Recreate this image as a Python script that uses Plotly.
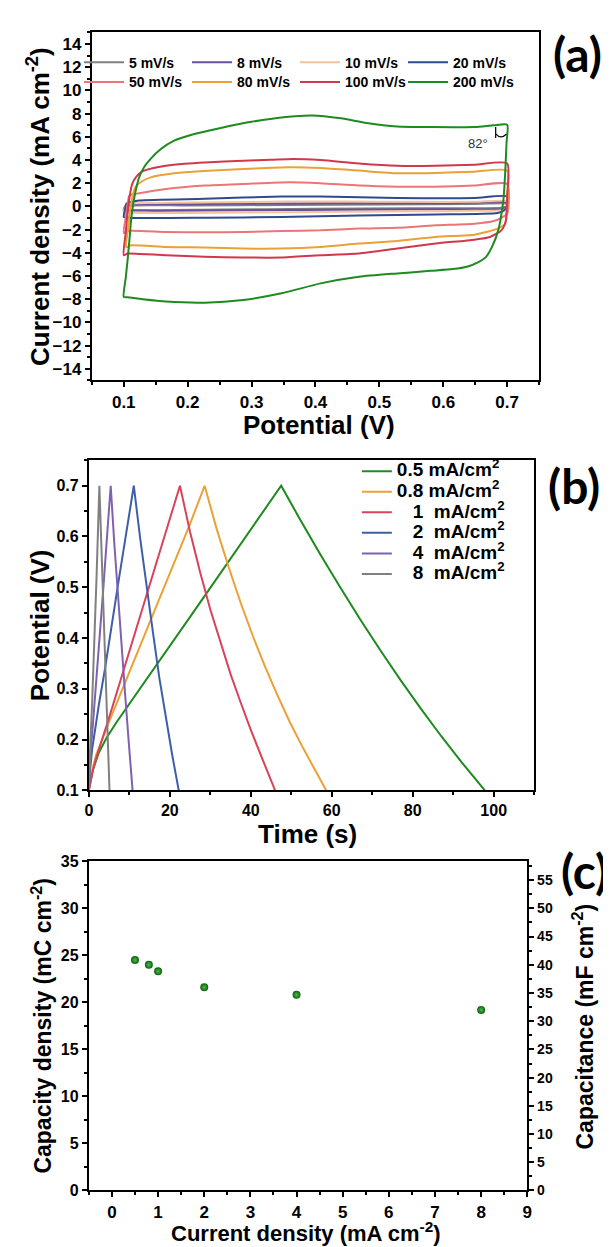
import plotly.graph_objects as go

# ----------------------------- data -----------------------------
# (a) cyclic voltammetry loops: potential (V) and current density (mA cm-2)
cv_names = ["5 mV/s", "8 mV/s", "10 mV/s", "20 mV/s", "50 mV/s", "80 mV/s", "100 mV/s", "200 mV/s"]
cv_colors = ["#7f7f7f", "#6a4f9e", "#f6c49c", "#2f4b8e", "#ec7676", "#eba135", "#d1384b", "#1f8a1f"]

cv_v_5 = [0.100, 0.103, 0.2, 0.35, 0.5, 0.65, 0.700, 0.700, 0.69, 0.55, 0.4, 0.25, 0.12, 0.100]
cv_i_5 = [-0.25, 0.02, 0.08, 0.13, 0.18, 0.22, 0.24, 0.05, -0.1, -0.15, -0.2, -0.26, -0.32, -0.25]

cv_v_8 = [0.100, 0.102, 0.106, 0.2, 0.35, 0.5, 0.6, 0.700, 0.700, 0.695, 0.6, 0.45, 0.3, 0.15, 0.105, 0.100]
cv_i_8 = [-0.38, -0.05, 0.15, 0.2, 0.26, 0.28, 0.27, 0.32, 0.0, -0.2, -0.24, -0.28, -0.33, -0.36, -0.36, -0.38]

cv_v_10 = [0.100, 0.102, 0.106, 0.15, 0.25, 0.35, 0.45, 0.55, 0.65, 0.700, 0.700, 0.695, 0.65, 0.55, 0.45, 0.35, 0.25, 0.15, 0.105, 0.100]
cv_i_10 = [-0.55, -0.1, 0.2, 0.3, 0.36, 0.42, 0.42, 0.4, 0.4, 0.45, 0.0, -0.3, -0.38, -0.42, -0.45, -0.5, -0.55, -0.56, -0.55, -0.55]

cv_v_20 = [0.100, 0.102, 0.104, 0.124, 0.227, 0.347, 0.408, 0.528, 0.649, 0.700, 0.700, 0.695, 0.685, 0.588, 0.468, 0.347, 0.227, 0.106, 0.100]
cv_i_20 = [-0.91, -0.3, 0.23, 0.51, 0.66, 0.86, 0.86, 0.74, 0.74, 0.86, 0.09, -0.35, -0.57, -0.69, -0.77, -0.91, -0.97, -0.97, -0.91]

cv_v_50 = [0.100, 0.103, 0.106, 0.109, 0.124, 0.166, 0.227, 0.287, 0.359, 0.408, 0.468, 0.528, 0.588, 0.649, 0.700,
           0.700, 0.690, 0.679, 0.649, 0.588, 0.528, 0.468, 0.408, 0.347, 0.287, 0.227, 0.166, 0.106, 0.100]
cv_i_50 = [-2.29, -1.0, 0.2, 0.94, 1.14, 1.51, 1.8, 1.94, 2.09, 2.0, 1.8, 1.71, 1.71, 1.8, 1.94,
           -0.63, -1.0, -1.26, -1.49, -1.63, -1.83, -1.91, -2.06, -2.11, -2.2, -2.23, -2.2, -2.11, -2.29]

cv_v_80 = [0.104, 0.107, 0.110, 0.114, 0.118, 0.128, 0.142, 0.165, 0.196, 0.240, 0.287, 0.359, 0.408, 0.468, 0.528, 0.588, 0.649, 0.700,
           0.700, 0.697, 0.685, 0.667, 0.649, 0.588, 0.528, 0.468, 0.408, 0.347, 0.287, 0.227, 0.166, 0.112, 0.104]
cv_i_80 = [-3.5, -1.8, -0.2, 0.9, 1.66, 2.15, 2.51, 2.75, 2.94, 3.1, 3.23, 3.37, 3.31, 3.09, 2.86, 2.89, 3.0, 3.09,
           0.6, -1.49, -1.91, -2.2, -2.43, -2.63, -2.97, -3.2, -3.49, -3.63, -3.63, -3.54, -3.49, -3.34, -3.5]

cv_v_100 = [0.100, 0.103, 0.106, 0.109, 0.113, 0.120, 0.130, 0.145, 0.166, 0.195, 0.227, 0.287, 0.330, 0.365, 0.408, 0.468, 0.528, 0.588, 0.649, 0.700,
            0.700, 0.698, 0.691, 0.673, 0.649, 0.588, 0.528, 0.468, 0.408, 0.347, 0.287, 0.227, 0.166, 0.125, 0.106, 0.100]
cv_i_100 = [-4.2, -2.3, -0.5, 0.8, 1.9, 2.6, 3.05, 3.3, 3.51, 3.68, 3.8, 3.94, 4.02, 4.09, 4.0, 3.71, 3.51, 3.51, 3.6, 3.71,
            1.0, -1.2, -2.06, -2.63, -2.86, -3.2, -3.63, -4.06, -4.2, -4.4, -4.4, -4.34, -4.2, -4.1, -4.06, -4.2]

cv_v_200 = [0.100, 0.103, 0.106, 0.109, 0.112, 0.117, 0.124, 0.132, 0.142, 0.158, 0.178, 0.209, 0.250, 0.300, 0.350, 0.395, 0.440, 0.480,
            0.528, 0.580, 0.649, 0.679, 0.700,
            0.699, 0.697, 0.694, 0.690, 0.686, 0.677, 0.667, 0.655, 0.637, 0.615, 0.580, 0.528, 0.468, 0.408, 0.347, 0.287, 0.227,
            0.166, 0.130, 0.106, 0.100]
cv_i_200 = [-7.8, -6.2, -4.6, -2.8, -0.9, 0.9, 2.5, 3.4, 4.1, 4.95, 5.66, 6.23, 6.75, 7.3, 7.7, 7.85, 7.6, 7.2,
            6.9, 6.85, 6.85, 7.0, 7.05,
            5.5, 3.0, 0.5, -1.0, -2.06, -3.4, -4.34, -4.8, -5.2, -5.4, -5.55, -5.77, -6.06, -6.63, -7.49, -8.06, -8.29,
            -8.2, -8.0, -7.83, -7.8]

cv_v = [cv_v_5, cv_v_8, cv_v_10, cv_v_20, cv_v_50, cv_v_80, cv_v_100, cv_v_200]
cv_i = [cv_i_5, cv_i_8, cv_i_10, cv_i_20, cv_i_50, cv_i_80, cv_i_100, cv_i_200]

# (b) galvanostatic charge/discharge: time (s) and potential (V)
gcd_names = ["0.5 mA/cm<sup>2</sup>", "0.8 mA/cm<sup>2</sup>",
             "\u00a0\u00a0\u00a01\u00a0\u00a0mA/cm<sup>2</sup>", "\u00a0\u00a0\u00a02\u00a0\u00a0mA/cm<sup>2</sup>",
             "\u00a0\u00a0\u00a04\u00a0\u00a0mA/cm<sup>2</sup>", "\u00a0\u00a0\u00a08\u00a0\u00a0mA/cm<sup>2</sup>"]
gcd_colors = ["#1f8a1f", "#eba135", "#d9435a", "#3f5ea8", "#7e62b0", "#808080"]

gcd_t_05 = [0, 1, 2.5, 4.5, 7, 10, 14, 20, 26, 32, 38, 43, 47.5,
            52, 57, 62, 67, 72, 77, 82, 87, 92, 97.8]
gcd_v_05 = [0.1, 0.14, 0.175, 0.205, 0.236, 0.27, 0.315, 0.384, 0.453, 0.522, 0.591, 0.648, 0.7,
            0.636, 0.567, 0.501, 0.437, 0.376, 0.317, 0.261, 0.207, 0.156, 0.1]
gcd_t_08 = [0, 0.7, 1.8, 3.2, 5, 7, 9.5, 13, 17, 21, 25, 28.6,
            31.6, 34.6, 37.6, 40.6, 43.6, 46.6, 49.6, 52.6, 55.6, 58.6]
gcd_v_08 = [0.1, 0.135, 0.17, 0.2, 0.235, 0.274, 0.323, 0.391, 0.469, 0.547, 0.625, 0.7,
            0.614, 0.538, 0.467, 0.402, 0.342, 0.287, 0.235, 0.188, 0.143, 0.1]
gcd_t_1 = [0, 1, 2, 3.5, 5.5, 8.3, 11, 14, 17, 20, 22.5,
           25, 27.5, 30, 32.5, 35, 37.5, 40, 43, 46]
gcd_v_1 = [0.1, 0.14, 0.168, 0.204, 0.256, 0.329, 0.4, 0.478, 0.556, 0.635, 0.7,
           0.609, 0.529, 0.456, 0.39, 0.329, 0.273, 0.219, 0.159, 0.1]
gcd_t_2 = [0, 0.3, 0.8, 1.5, 2.5, 4, 5.5, 7.3, 9.2, 11.1,
           12.7, 14.3, 15.9, 17.4, 19.0, 20.6, 22.2]
gcd_v_2 = [0.1, 0.14, 0.18, 0.22, 0.27, 0.34, 0.42, 0.51, 0.605, 0.7,
           0.595, 0.498, 0.407, 0.322, 0.243, 0.169, 0.1]
gcd_t_4 = [0, 0.2, 0.5, 1, 1.7, 2.6, 3.5, 4.4, 5.4,
           6.3, 7.2, 8.1, 9.0, 9.9, 10.8]
gcd_v_4 = [0.1, 0.14, 0.18, 0.23, 0.3, 0.39, 0.49, 0.59, 0.7,
           0.585, 0.48, 0.38, 0.285, 0.19, 0.1]
gcd_t_8 = [0, 0.15, 0.4, 0.8, 1.3, 1.9, 2.6, 3.1, 3.6, 4.1, 4.6, 5.1]
gcd_v_8 = [0.1, 0.15, 0.2, 0.27, 0.37, 0.52, 0.7, 0.57, 0.45, 0.34, 0.22, 0.1]

gcd_t = [gcd_t_05, gcd_t_08, gcd_t_1, gcd_t_2, gcd_t_4, gcd_t_8]
gcd_v = [gcd_v_05, gcd_v_08, gcd_v_1, gcd_v_2, gcd_v_4, gcd_v_8]

# (c) capacity vs current density
cur_density = [0.5, 0.8, 1, 2, 4, 8]
capacity = [24.5, 24.0, 23.3, 21.6, 20.8, 19.2]
window_v = 0.6  # potential window (V): capacitance = capacity / window
capacitance = [q / window_v for q in capacity]

# angle annotation in panel (a)
angle_text = "82°"
angle_text_pos = (0.655, 5.4)
angle_line = ((0.682, 6.85), (0.682, 5.9))
angle_arc = "M 0.682,6.25 Q 0.690,5.75 0.699,6.25"

# ----------------------------- layout helpers -----------------------------
W, H = 611, 1247
FONT = "Liberation Sans, Arial, sans-serif"


def fx(p):
    return p / W


def fy(p):
    return 1 - p / H


dom_a = dict(x=[fx(81), fx(535)], y=[fy(369.5), fy(16.7)])
dom_b = dict(x=[fx(78), fx(530)], y=[fy(785), fy(450.5)])
dom_c = dict(x=[fx(78), fx(523)], y=[fy(1190.7), fy(857)])

fig = go.Figure()

for k in range(len(cv_names)):
    last_in_row = (k % 4 == 3)
    fig.add_trace(go.Scatter(
        x=cv_v[k], y=cv_i[k], mode="lines", name=cv_names[k],
        line=dict(color=cv_colors[k], width=2, shape="spline", smoothing=0.6),
        legendwidth=75 if last_in_row else None,
        xaxis="x", yaxis="y", legend="legend" if k < 4 else "legend2"))

for k in range(len(gcd_names)):
    fig.add_trace(go.Scatter(
        x=gcd_t[k], y=gcd_v[k], mode="lines",
        name='<span style="font-size:19px">' + gcd_names[k] + "</span>",
        line=dict(color=gcd_colors[k], width=2),
        xaxis="x2", yaxis="y2", legend="legend3"))

fig.add_trace(go.Scatter(
    x=cur_density, y=capacity, mode="markers", showlegend=False,
    marker=dict(size=8, color="#0a620a", gradient=dict(type="radial", color="#4fb84f"),
                line=dict(width=0)),
    xaxis="x3", yaxis="y3"))
fig.add_trace(go.Scatter(
    x=cur_density, y=capacitance, mode="markers", showlegend=False, hoverinfo="skip",
    marker=dict(size=8, opacity=0), xaxis="x3", yaxis="y4"))

tick_font = dict(family=FONT, size=17, color="black", weight="bold")
base = dict(showline=True, linecolor="black", linewidth=2, ticks="outside", ticklen=5,
            tickwidth=1.8, tickcolor="black", showgrid=False, zeroline=False,
            tickfont=tick_font, mirror=True)
minor = lambda d: dict(dtick=d, ticks="outside", ticklen=3, tickwidth=1.5, tickcolor="black", showgrid=False)

legend_font = dict(family=FONT, size=14, color="black", weight="bold")

fig.update_layout(
    width=W, height=H, margin=dict(l=0, r=0, t=0, b=0),
    paper_bgcolor="white", plot_bgcolor="white",
    xaxis=dict(base, domain=dom_a["x"], anchor="y", range=[0.05, 0.75], tick0=0.1, dtick=0.1,
               tickformat=".1f", minor=minor(0.05)),
    yaxis=dict(base, domain=dom_a["y"], anchor="x", range=[-15, 15], tick0=-14, dtick=2, minor=minor(1)),
    xaxis2=dict(base, domain=dom_b["x"], anchor="y2", range=[0, 110], dtick=20, minor=minor(10),
                tickfont=dict(tick_font, size=16)),
    yaxis2=dict(base, domain=dom_b["y"], anchor="x2", range=[0.1, 0.75], dtick=0.1, tickformat=".1f",
                minor=minor(0.05), tickfont=dict(tick_font, size=16)),
    xaxis3=dict(base, domain=dom_c["x"], anchor="y3", range=[-0.5, 9], dtick=1, minor=minor(0.5)),
    yaxis3=dict(base, domain=dom_c["y"], anchor="x3", range=[0, 35], dtick=5, minor=minor(2.5),
                mirror=False, tickfont=dict(tick_font, size=16)),
    yaxis4=dict(base, overlaying="y3", side="right", anchor="x3", range=[0, 35 / window_v], dtick=5,
                minor=minor(2.5), mirror=False, tickfont=dict(tick_font, size=14)),
    legend=dict(orientation="h", x=fx(68), xanchor="left", y=fy(31), yanchor="top",
                entrywidth=53, itemwidth=40, font=legend_font, bgcolor="rgba(0,0,0,0)", tracegroupgap=0),
    legend2=dict(orientation="h", x=fx(68), xanchor="left", y=fy(51), yanchor="top",
                 entrywidth=53, itemwidth=40, font=legend_font, bgcolor="rgba(0,0,0,0)", tracegroupgap=0),
    legend3=dict(orientation="v", x=fx(350), xanchor="left", y=fy(446), yanchor="top",
                 font=dict(legend_font, size=13.5), bgcolor="rgba(0,0,0,0)", tracegroupgap=0),
    showlegend=True,
)

title_font = dict(family=FONT, size=26, color="black", weight="bold")
anns = [
    dict(text="Current density (mA cm<sup>-2</sup>)", x=fx(27), y=fy(193), textangle=-90, font=title_font),
    dict(text="Potential (V)", x=fx(312), y=fy(415), font=title_font),
    dict(text="Potential (V)", x=fx(28), y=fy(618), textangle=-90, font=title_font),
    dict(text="Time (s)", x=fx(300), y=fy(829), font=title_font),
    dict(text="Capacity density (mC cm<sup>-2</sup>)", x=fx(30), y=fy(1024), textangle=-90,
         font=dict(title_font, size=23)),
    dict(text="Capacitance (mF cm<sup>-2</sup>)", x=fx(580), y=fy(1024), textangle=-90,
         font=dict(title_font, size=23)),
    dict(text="Current density (mA cm<sup>-2</sup>)", x=fx(298), y=fy(1233), font=dict(title_font, size=22)),
    dict(text="(a)", x=fx(574), y=fy(38), font=dict(family="Lato, " + FONT, size=48, color="black", weight="bold")),
    dict(text="(b)", x=fx(570), y=fy(476), font=dict(family="Lato, " + FONT, size=48, color="black", weight="bold")),
    dict(text="(c)", x=fx(581), y=fy(866), font=dict(family="Lato, " + FONT, size=48, color="black", weight="bold")),
]
for a in anns:
    a.update(xref="paper", yref="paper", showarrow=False, xanchor="center", yanchor="middle")
    fig.add_annotation(**a)

fig.add_annotation(text=angle_text, x=angle_text_pos[0], y=angle_text_pos[1], xref="x", yref="y",
                   showarrow=False, font=dict(family=FONT, size=13, color="#333333"))
fig.add_shape(type="line", xref="x", yref="y", x0=angle_line[0][0], y0=angle_line[0][1],
              x1=angle_line[1][0], y1=angle_line[1][1], line=dict(color="black", width=1.2))
fig.add_shape(type="path", xref="x", yref="y", path=angle_arc, line=dict(color="black", width=1.2))

fig.write_html("out.html")
